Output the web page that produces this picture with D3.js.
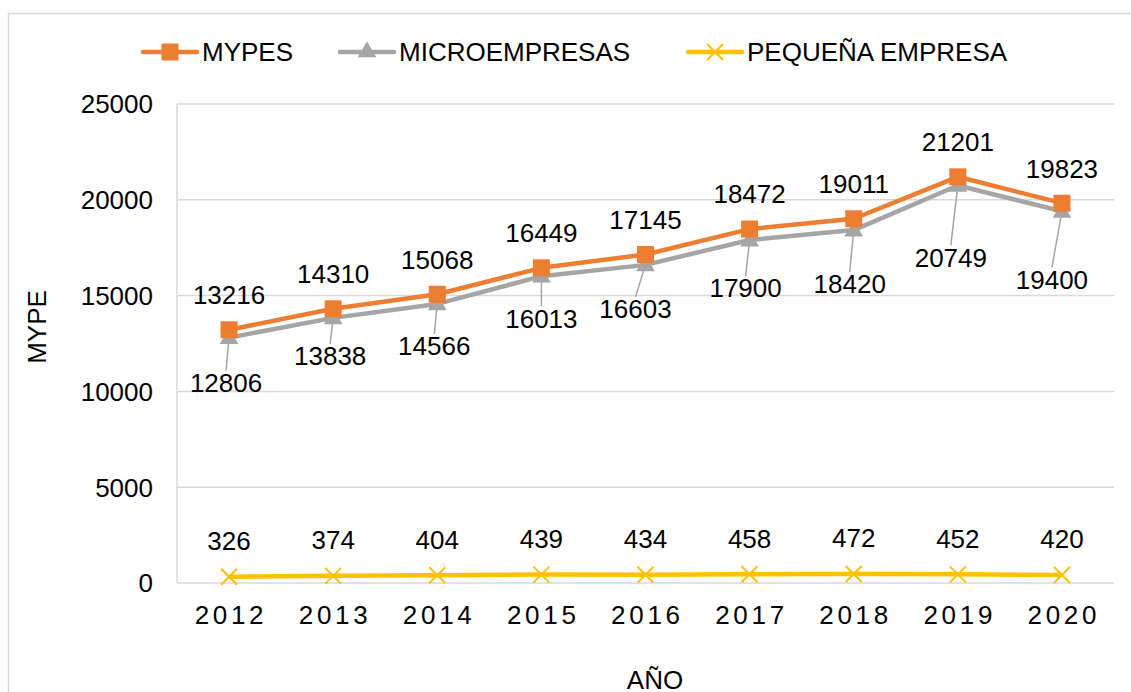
<!DOCTYPE html>
<html>
<head>
<meta charset="utf-8">
<script src="https://cdn.jsdelivr.net/npm/d3@7"></script>
<style>
  html, body { margin: 0; padding: 0; background: #fff; }
  text { font-family: "Liberation Sans", Arial, sans-serif; fill: #000; }
</style>
</head>
<body>
<div id="chart"></div>
<script>
// data
var years = ["2012", "2013", "2014", "2015", "2016", "2017", "2018", "2019", "2020"];
var mypes = [13216, 14310, 15068, 16449, 17145, 18472, 19011, 21201, 19823];
var micro = [12806, 13838, 14566, 16013, 16603, 17900, 18420, 20749, 19400];
var pequena = [326, 374, 404, 439, 434, 458, 472, 452, 420];
var yTicks = [0, 5000, 10000, 15000, 20000, 25000];
var seriesNames = ["MYPES", "MICROEMPRESAS", "PEQUEÑA EMPRESA"];

// label nudges for the micro series (pixels, from the point)
var microLabelShift = [[-3, 45], [-3, 38], [-3, 42], [0, 42], [-10, 44], [-4, 48], [-4, 54], [-7, 72], [-10, 68]];

var width = 1131, height = 692;
var plotLeft = 177, plotRight = 1114, plotTop = 104, plotBottom = 583;
var fontSize = 26;

var svg = d3.select("#chart").append("svg")
    .attr("width", width)
    .attr("height", height);

// chart border (runs off the page at right and bottom)
svg.append("rect")
    .attr("x", 8.5).attr("y", 13.5)
    .attr("width", 1200).attr("height", 800)
    .attr("fill", "none")
    .attr("stroke", "#d9d9d9")
    .attr("stroke-width", 1.5);

var x = d3.scaleBand().domain(years).range([plotLeft, plotRight]);
var y = d3.scaleLinear().domain([0, 25000]).range([plotBottom, plotTop]);
function cx(d, i) { return x(years[i]) + x.bandwidth() / 2; }

// gridlines
svg.append("g").selectAll("line")
    .data(yTicks)
    .enter().append("line")
      .attr("x1", plotLeft).attr("x2", plotRight)
      .attr("y1", function(d) { return y(d); })
      .attr("y2", function(d) { return y(d); })
      .attr("stroke", "#d9d9d9")
      .attr("stroke-width", 1.5);

// left axis line
svg.append("line")
    .attr("x1", plotLeft).attr("x2", plotLeft)
    .attr("y1", plotTop).attr("y2", plotBottom)
    .attr("stroke", "#d9d9d9")
    .attr("stroke-width", 1.5);

// y tick labels
svg.append("g").selectAll("text")
    .data(yTicks)
    .enter().append("text")
      .attr("x", 153)
      .attr("y", function(d) { return y(d); })
      .attr("dy", "0.36em")
      .attr("text-anchor", "end")
      .style("font-size", fontSize + "px")
      .text(function(d) { return d; });

// x tick labels (spaced out like the original)
svg.append("g").selectAll("text")
    .data(years)
    .enter().append("text")
      .attr("x", function(d) { return x(d) + x.bandwidth() / 2 + 1.9; })
      .attr("y", plotBottom + 32)
      .attr("dy", "0.36em")
      .attr("text-anchor", "middle")
      .style("font-size", fontSize + "px")
      .style("letter-spacing", "3.7px")
      .text(function(d) { return d; });

// axis titles
svg.append("text")
    .attr("transform", "translate(37,327) rotate(-90)")
    .attr("dy", "0.36em")
    .attr("text-anchor", "middle")
    .style("font-size", fontSize + "px")
    .text("MYPE");

svg.append("text")
    .attr("x", 655)
    .attr("y", 680)
    .attr("dy", "0.36em")
    .attr("text-anchor", "middle")
    .style("font-size", fontSize + "px")
    .text("AÑO");

var line = d3.line()
    .x(function(d, i) { return cx(d, i); })
    .y(function(d) { return y(d); });

var colors = ["#ed7d31", "#a5a5a5", "#ffc000"];

function drawMarker(sel, kind, color) {
  if (kind === 0) {
    sel.append("rect")
        .attr("x", -8.5).attr("y", -8.5)
        .attr("width", 17).attr("height", 17)
        .attr("fill", color);
  } else if (kind === 1) {
    sel.append("path")
        .attr("d", d3.symbol().type(d3.symbolTriangle).size(150))
        .attr("fill", color);
  } else {
    sel.append("path")
        .attr("d", "M-8,-8L8,8M-8,8L8,-8")
        .attr("stroke", color)
        .attr("stroke-width", 2);
  }
}

// leader lines for micro labels (under the series)
svg.append("g").selectAll("line")
    .data(micro)
    .enter().append("line")
      .attr("x1", function(d, i) { return cx(d, i) + microLabelShift[i][0]; })
      .attr("y1", function(d, i) { return y(d) + microLabelShift[i][1] - 12; })
      .attr("x2", function(d, i) { return cx(d, i); })
      .attr("y2", function(d) { return y(d); })
      .attr("stroke", "#a5a5a5")
      .attr("stroke-width", 1.5);

var allSeries = [micro, mypes, pequena];
var kinds = [1, 0, 2];

// draw micro first so the orange line sits on top
allSeries.forEach(function(vals, s) {
  var k = kinds[s];
  svg.append("path")
      .datum(vals)
      .attr("d", line)
      .attr("fill", "none")
      .attr("stroke", colors[k])
      .attr("stroke-width", 4.5)
      .attr("stroke-linejoin", "round");

  svg.append("g").selectAll("g")
      .data(vals)
      .enter().append("g")
        .attr("transform", function(d, i) {
          return "translate(" + cx(d, i) + "," + (y(d) + (k === 1 ? 1 : 0)) + ")";
        })
        .each(function() { drawMarker(d3.select(this), k, colors[k]); });
});

// data labels
svg.append("g").selectAll("text")
    .data(mypes)
    .enter().append("text")
      .attr("x", function(d, i) { return cx(d, i); })
      .attr("y", function(d) { return y(d) - 35; })
      .attr("dy", "0.36em")
      .attr("text-anchor", "middle")
      .style("font-size", fontSize + "px")
      .text(function(d) { return d; });

svg.append("g").selectAll("text")
    .data(micro)
    .enter().append("text")
      .attr("x", function(d, i) { return cx(d, i) + microLabelShift[i][0]; })
      .attr("y", function(d, i) { return y(d) + microLabelShift[i][1]; })
      .attr("dy", "0.36em")
      .attr("text-anchor", "middle")
      .style("font-size", fontSize + "px")
      .text(function(d) { return d; });

svg.append("g").selectAll("text")
    .data(pequena)
    .enter().append("text")
      .attr("x", function(d, i) { return cx(d, i); })
      .attr("y", function(d) { return y(d) - 36; })
      .attr("dy", "0.36em")
      .attr("text-anchor", "middle")
      .style("font-size", fontSize + "px")
      .text(function(d) { return d; });

// legend
var legendX = [143, 340, 688];
var legendY = 52;
var legend = svg.append("g").selectAll("g")
    .data(seriesNames)
    .enter().append("g")
      .attr("transform", function(d, i) { return "translate(" + legendX[i] + "," + legendY + ")"; });

legend.append("line")
    .attr("x1", 0).attr("x2", 54)
    .attr("stroke", function(d, i) { return colors[i]; })
    .attr("stroke-width", 4.5)
    .attr("stroke-linecap", "round");

legend.append("g")
    .attr("transform", "translate(27,0)")
    .each(function(d, i) { drawMarker(d3.select(this), i, colors[i]); });

legend.append("text")
    .attr("x", 59)
    .attr("dy", "0.36em")
    .style("font-size", fontSize + "px")
    .text(function(d) { return d; });
</script>
</body>
</html>
